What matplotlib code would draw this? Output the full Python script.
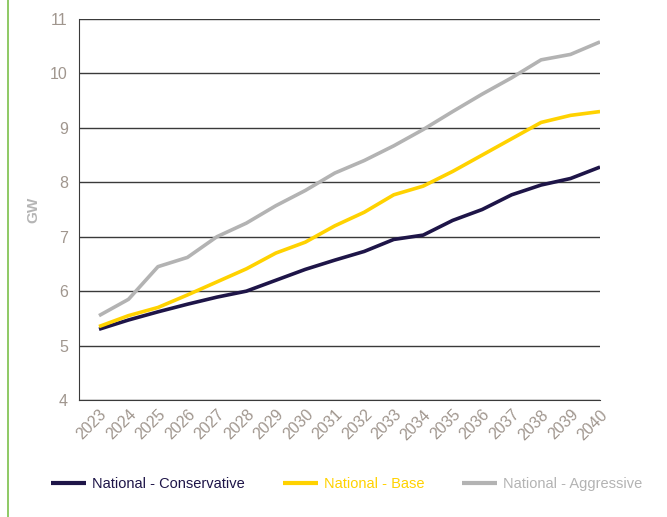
import matplotlib.pyplot as plt
from matplotlib.lines import Line2D

plt.rcParams['font.family'] = ['Liberation Sans', 'DejaVu Sans']

years = list(range(2023, 2041))
conservative = [5.30, 5.47, 5.62, 5.76, 5.89, 6.00, 6.20, 6.40, 6.57, 6.73,
                6.95, 7.03, 7.30, 7.50, 7.77, 7.95, 8.07, 8.28]
base = [5.35, 5.55, 5.70, 5.93, 6.17, 6.41, 6.70, 6.90, 7.20, 7.45,
        7.77, 7.93, 8.20, 8.50, 8.80, 9.10, 9.23, 9.30]
aggressive = [5.55, 5.85, 6.45, 6.62, 7.00, 7.25, 7.57, 7.85, 8.17, 8.40,
              8.67, 8.97, 9.30, 9.62, 9.92, 10.25, 10.35, 10.58]
series_names = ["National - Conservative", "National - Base", "National - Aggressive"]
colors = ["#1e1548", "#ffd200", "#b3b3b3"]

fig = plt.figure(figsize=(6.67, 5.17), dpi=100)
ax = fig.add_axes([0.1184, 0.2263, 0.7812, 0.7369])

for vals, name, c in zip([conservative, base, aggressive], series_names, colors):
    ax.plot(years, vals, color=c, lw=2.6, label=name, solid_capstyle='butt')

ax.set_ylim(4, 11)
ax.set_xlim(2022.32, 2040)
ax.set_yticks(range(4, 12))
ax.set_xticks(years)
ax.set_xticklabels([str(y) for y in years], rotation=45, ha='right',
                   rotation_mode='anchor')
ax.tick_params(axis='both', length=0, labelsize=11.5, labelcolor='#a0968e')
ax.tick_params(axis='y', pad=8)
ax.tick_params(axis='x', pad=5)
ax.yaxis.grid(True, color='#3a3a3a', lw=1)
ax.set_axisbelow(True)
for s in ['top', 'right']:
    ax.spines[s].set_visible(False)
ax.spines['left'].set_color('#3a3a3a')
ax.spines['bottom'].set_color('#3a3a3a')
ax.set_ylabel("GW", color='#b5b5b5', fontsize=11, fontweight='bold', labelpad=7)

leg = fig.legend(loc='center', bbox_to_anchor=(0.52, 0.064), ncol=3, frameon=False,
                 fontsize=10.5, handlelength=2.4, handletextpad=0.4,
                 columnspacing=2.6)
for txt, c in zip(leg.get_texts(), colors):
    txt.set_color(c)
for h in leg.get_lines():
    h.set_linewidth(3)

fig.add_artist(Line2D([0.012, 0.012], [0, 1], color='#7cc04a', lw=1.2))

fig.savefig("out.png", dpi=100)
